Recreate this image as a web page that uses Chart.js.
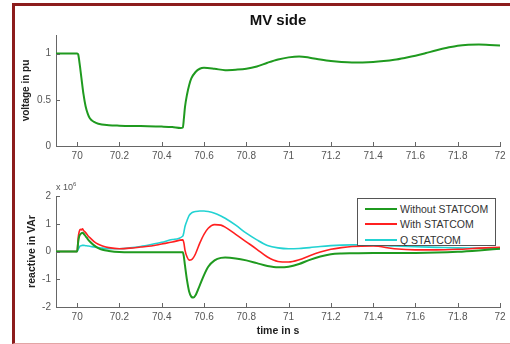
<!DOCTYPE html>
<html>
<head>
<meta charset="UTF-8">
<title>MV side</title>
<script src="https://cdn.jsdelivr.net/npm/chart.js"></script>
<style>
    body { margin: 0; background: #fff; font-family: Arial, "Liberation Sans", sans-serif; }
    #wrap { position: relative; width: 510px; height: 344px; overflow: hidden; }
    #frame {
        position: absolute; left: 12px; top: 3px; width: 520px; height: 337px;
        border-top: 3px solid #8c1c1c; border-left: 3px solid #8c1c1c;
        border-bottom: 1px solid #e3a5a5;
    }
    #c1 { position: absolute; left: 0; top: 0; }
    #c2 { position: absolute; left: 0; top: 170px; }
    #scale {
        position: absolute; left: 56px; top: 181px; font-size: 9px; color: #555;
    }
    #scale sup { font-size: 6px; }
    #legend {
        position: absolute; left: 357px; top: 198px; width: 139px; height: 48px;
        box-sizing: border-box; border: 1px solid #555; background: #fff;
        padding-top: 2px; z-index: 5;
    }
    .row { height: 15.5px; display: flex; align-items: center; font-size: 10.5px; color: #333; }
    .row span { display: inline-block; width: 32px; margin: 0 3px 0 7px; }
</style>
</head>
<body>
<div id="wrap">
    <div id="frame"></div>
    <canvas id="c1" width="510" height="170"></canvas>
    <canvas id="c2" width="510" height="174"></canvas>
    <div id="scale">x 10<sup>6</sup></div>
    <div id="legend"></div>
</div>

<script>
    // time axis ticks (s)
    const tTicks = [70, 70.2, 70.4, 70.6, 70.8, 71, 71.2, 71.4, 71.6, 71.8, 72];
    const vTicks = [0, 0.5, 1];
    const qTicks = [-2, -1, 0, 1, 2];

    // MV voltage (pu)
    const vTime = [69.9, 69.95, 70.0, 70.005, 70.01, 70.02, 70.03, 70.04, 70.05, 70.06, 70.08, 70.1, 70.15, 70.2,
        70.3, 70.4, 70.45, 70.49, 70.5, 70.505, 70.51, 70.52, 70.53, 70.54, 70.56, 70.58, 70.6, 70.65, 70.7,
        70.75, 70.8, 70.85, 70.9, 70.95, 71.0, 71.05, 71.1, 71.15, 71.2, 71.25, 71.3, 71.35, 71.4, 71.45,
        71.5, 71.55, 71.6, 71.65, 71.7, 71.75, 71.8, 71.85, 71.9, 71.95, 72.0];
    const vVolt = [1.0, 1.0, 1.0, 0.99, 0.92, 0.74, 0.56, 0.43, 0.35, 0.30, 0.26, 0.24, 0.225, 0.22,
        0.215, 0.21, 0.205, 0.195, 0.2, 0.3, 0.42, 0.56, 0.66, 0.73, 0.80, 0.835, 0.845, 0.835, 0.82,
        0.825, 0.835, 0.86, 0.9, 0.935, 0.958, 0.968, 0.955, 0.935, 0.918, 0.907, 0.902, 0.903, 0.908, 0.918,
        0.932, 0.952, 0.975, 1.005, 1.035, 1.062, 1.085, 1.095, 1.097, 1.092, 1.087];

    // reactive power (x 10^6 VAr)
    const qTime = [69.9, 70.0, 70.005, 70.01, 70.015, 70.02, 70.025, 70.03, 70.04, 70.05, 70.06, 70.08, 70.1,
        70.12, 70.15, 70.2, 70.25, 70.3, 70.35, 70.4, 70.45, 70.5, 70.505, 70.51, 70.52, 70.53, 70.54, 70.55,
        70.56, 70.58, 70.6, 70.62, 70.65, 70.68, 70.7, 70.75, 70.8, 70.85, 70.9, 70.95, 71.0, 71.05, 71.1,
        71.15, 71.2, 71.25, 71.3, 71.4, 71.5, 71.6, 71.7, 71.8, 71.9, 72.0];
    const qWithout = [0, 0, 0.35, 0.55, 0.62, 0.66, 0.68, 0.65, 0.55, 0.45, 0.36, 0.22, 0.12,
        0.06, 0.02, -0.02, -0.03, -0.03, -0.03, -0.03, -0.03, -0.03, -0.2, -0.5, -1.05, -1.45, -1.63, -1.66,
        -1.58, -1.22, -0.85, -0.55, -0.32, -0.23, -0.22, -0.25, -0.32, -0.42, -0.52, -0.57, -0.55, -0.45, -0.3,
        -0.18, -0.1, -0.07, -0.06, -0.05, -0.05, -0.05, -0.04, -0.01, 0.04, 0.1];
    const qWith = [0, 0, 0.5, 0.72, 0.8, 0.78, 0.82, 0.76, 0.68, 0.58, 0.5, 0.36, 0.26,
        0.2, 0.14, 0.1, 0.12, 0.16, 0.2, 0.27, 0.34, 0.42, 0.3, 0.05, -0.2, -0.31, -0.3, -0.22,
        -0.08, 0.3, 0.62, 0.84, 0.97, 0.95, 0.88, 0.62, 0.35, 0.08, -0.2, -0.36, -0.38, -0.3, -0.15,
        -0.02, 0.08, 0.14, 0.18, 0.2, 0.1, 0.06, 0.06, 0.08, 0.12, 0.15];
    const qStatcom = [0, 0, 0.08, 0.15, 0.2, 0.21, 0.22, 0.22, 0.21, 0.2, 0.19, 0.16, 0.14,
        0.12, 0.1, 0.1, 0.13, 0.18, 0.25, 0.33, 0.43, 0.56, 0.7, 0.9, 1.12, 1.3, 1.38, 1.42,
        1.44, 1.46, 1.46, 1.44, 1.38, 1.28, 1.2, 0.95, 0.66, 0.42, 0.22, 0.13, 0.1, 0.11, 0.14,
        0.18, 0.21, 0.23, 0.24, 0.23, 0.2, 0.17, 0.15, 0.13, 0.12, 0.1];

    const seriesNames = ['Without STATCOM', 'With STATCOM', 'Q STATCOM'];
    const seriesColors = ['#1f9a1f', '#ff2020', '#22d2d2'];

    const pts = (xs, ys) => xs.map((x, i) => ({x: x, y: ys[i]}));

    // MATLAB style ticks pointing into the plot
    const innerTicks = {
        id: 'innerTicks',
        afterDraw(chart) {
            const ctx = chart.ctx, a = chart.chartArea;
            const sx = chart.scales.x, sy = chart.scales.y;
            ctx.save();
            ctx.strokeStyle = '#666';
            ctx.lineWidth = 1;
            ctx.beginPath();
            sx.ticks.forEach(t => {
                const p = Math.round(sx.getPixelForValue(t.value)) + 0.5;
                ctx.moveTo(p, a.bottom);
                ctx.lineTo(p, a.bottom - 4);
            });
            sy.ticks.forEach(t => {
                const p = Math.round(sy.getPixelForValue(t.value)) + 0.5;
                ctx.moveTo(a.left, p);
                ctx.lineTo(a.left + 4, p);
            });
            ctx.stroke();
            ctx.restore();
        }
    };

    const tickFont = {family: 'Arial', size: 10};
    const fmtT = v => String(Number(v.toFixed(1)));

    function xScale(xHeight, title) {
        return {
            type: 'linear', min: 69.9, max: 72,
            grid: {display: false, drawTicks: false},
            border: {color: '#666', width: 1},
            ticks: {color: '#555', font: tickFont, padding: 4, maxRotation: 0, callback: fmtT},
            afterBuildTicks: s => { s.ticks = tTicks.map(v => ({value: v})); },
            afterFit: s => { s.height = xHeight; },
            title: title
        };
    }

    function yScale(min, max, ticks, text, pad, size) {
        return {
            min: min, max: max,
            grid: {display: false, drawTicks: false},
            border: {color: '#666', width: 1},
            ticks: {color: '#555', font: tickFont, padding: 5, callback: v => String(v)},
            afterBuildTicks: s => { s.ticks = ticks.map(v => ({value: v})); },
            afterFit: s => { s.width = 42; },
            title: {display: true, text: text, color: '#222',
                font: {family: 'Arial', size: size, weight: 'bold'}, padding: {top: pad, bottom: 0}}
        };
    }

    const common = {
        responsive: false,
        animation: false,
        events: [],
        elements: {point: {radius: 0}, line: {cubicInterpolationMode: 'monotone'}}
    };

    new Chart(document.getElementById('c1'), {
        type: 'line',
        data: {
            datasets: [{
                data: pts(vTime, vVolt), borderColor: seriesColors[0], borderWidth: 2
            }]
        },
        options: Object.assign({}, common, {
            layout: {padding: {left: 14, right: 10, top: 0, bottom: 0}},
            plugins: {
                legend: {display: false},
                tooltip: {enabled: false},
                title: {display: true, text: 'MV side', fullSize: false, color: '#111',
                    font: {family: 'Arial', size: 15, weight: 'bold'}, padding: {top: 12, bottom: 5}}
            },
            scales: {
                x: xScale(24, {display: false}),
                y: yScale(0, 1.2, vTicks, 'voltage in pu', 6, 10)
            }
        }),
        plugins: [innerTicks]
    });

    const qSeries = [qWithout, qWith, qStatcom];
    new Chart(document.getElementById('c2'), {
        type: 'line',
        data: {
            datasets: qSeries.map((s, i) => ({
                label: seriesNames[i],
                data: pts(qTime, s),
                borderColor: seriesColors[i],
                borderWidth: i === 0 ? 2 : 1.6
            }))
        },
        options: Object.assign({}, common, {
            layout: {padding: {left: 14, right: 10, top: 26, bottom: 3}},
            plugins: {legend: {display: false}, tooltip: {enabled: false}},
            scales: {
                x: xScale(34, {display: true, text: 'time in s', color: '#222',
                    font: {family: 'Arial', size: 10.5, weight: 'bold'}, padding: {top: 0, bottom: 4}}),
                y: yScale(-2, 2, qTicks, 'reactive in VAr', 12, 10.5)
            }
        }),
        plugins: [innerTicks]
    });

    // legend box
    const legend = document.getElementById('legend');
    seriesNames.forEach((name, i) => {
        const row = document.createElement('div');
        row.className = 'row';
        row.innerHTML = '<span style="border-top:2px solid ' + seriesColors[i] + '"></span>' + name;
        legend.appendChild(row);
    });
</script>
</body>
</html>
